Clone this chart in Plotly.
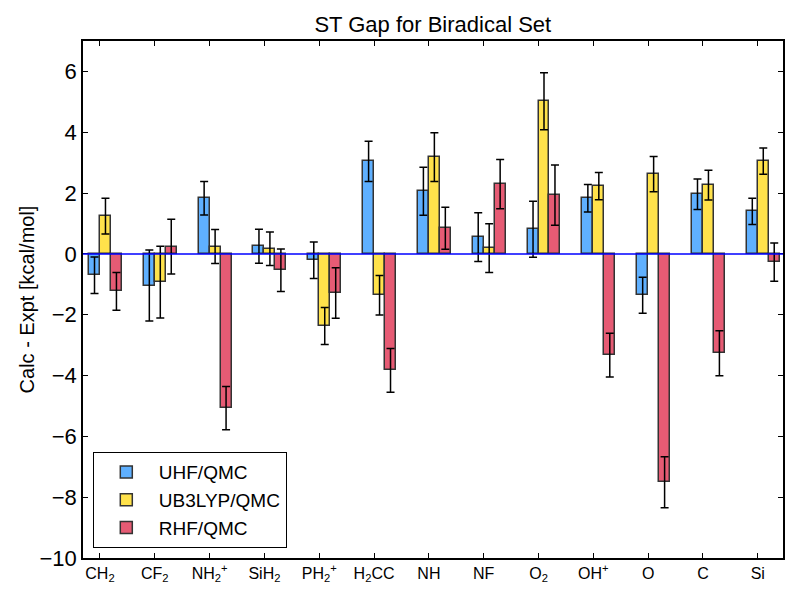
import plotly.graph_objects as go

categories = ["CH<sub>2</sub>", "CF<sub>2</sub>", "NH<sub>2</sub><sup>+</sup>", "SiH<sub>2</sub>",
              "PH<sub>2</sub><sup>+</sup>", "H<sub>2</sub>CC", "NH", "NF", "O<sub>2</sub>",
              "OH<sup>+</sup>", "O", "C", "Si"]

uhf = [-0.70, -1.04, 1.83, 0.25, -0.21, 3.04, 2.06, 0.55, 0.81, 1.83, -1.36, 1.96, 1.40]
uhf_err = [0.60, 1.17, 0.55, 0.56, 0.60, 0.66, 0.79, 0.80, 0.92, 0.45, 0.59, 0.50, 0.43]

ub3lyp = [1.24, -0.93, 0.24, 0.17, -2.37, -1.36, 3.18, 0.19, 5.02, 2.23, 2.62, 2.26, 3.05]
ub3lyp_err = [0.59, 1.18, 0.56, 0.55, 0.61, 0.65, 0.80, 0.80, 0.94, 0.45, 0.58, 0.49, 0.43]

rhf = [-1.23, 0.24, -5.07, -0.54, -1.29, -3.83, 0.84, 2.29, 1.93, -3.33, -7.51, -3.27, -0.27]
rhf_err = [0.62, 0.90, 0.71, 0.70, 0.83, 0.72, 0.69, 0.81, 0.99, 0.72, 0.84, 0.74, 0.63]

series = [
    ("UHF/QMC", uhf, uhf_err, "#5fb0ff"),
    ("UB3LYP/QMC", ub3lyp, ub3lyp_err, "#ffe24b"),
    ("RHF/QMC", rhf, rhf_err, "#e65b74"),
]

width = 0.2
fig = go.Figure()
for k, (name, vals, errs, color) in enumerate(series):
    xs = [i + width * k + width / 2 for i in range(len(categories))]
    fig.add_trace(go.Bar(
        x=xs, y=vals, width=width, name=name,
        marker=dict(color=color, line=dict(color="#333333", width=1.5)),
        error_y=dict(type="data", array=errs, visible=True, color="black",
                     thickness=1.5, width=4),
    ))

fig.add_shape(type="line", xref="paper", x0=0, x1=1, yref="y", y0=0, y1=0,
              line=dict(color="blue", width=1.5), layer="above")

font_family = "Liberation Sans, Arial, sans-serif"
fig.update_layout(
    width=800, height=600,
    margin=dict(l=83, r=17, t=41, b=42),
    paper_bgcolor="white", plot_bgcolor="white",
    font=dict(family=font_family, color="black"),
    title=dict(text="ST Gap for Biradical Set", x=0.541, xanchor="center",
               y=0.96, yanchor="middle", font=dict(size=22)),
    barmode="overlay",
    bargap=0,
    showlegend=True,
    legend=dict(x=0.014, y=0.019, xanchor="left", yanchor="bottom",
                bordercolor="black", borderwidth=1, bgcolor="white",
                font=dict(size=19), itemwidth=55, tracegroupgap=2),
    xaxis=dict(
        range=[-0.11, 12.66],
        tickmode="array",
        tickvals=[i + width for i in range(len(categories))],
        ticktext=categories,
        ticks="inside", ticklen=5, tickcolor="black",
        showline=True, linecolor="black", linewidth=1.5, mirror="ticks",
        showgrid=False, zeroline=False,
        tickfont=dict(size=16),
    ),
    yaxis=dict(
        range=[-10, 7],
        tickmode="array",
        tickvals=list(range(-10, 7, 2)),
        ticks="inside", ticklen=5, tickcolor="black",
        showline=True, linecolor="black", linewidth=1.5, mirror="ticks",
        showgrid=False, zeroline=False,
        tickfont=dict(size=22),
        title=dict(text="Calc - Expt [kcal/mol]", font=dict(size=20), standoff=0),
    ),
)

fig.write_html("out.html")
